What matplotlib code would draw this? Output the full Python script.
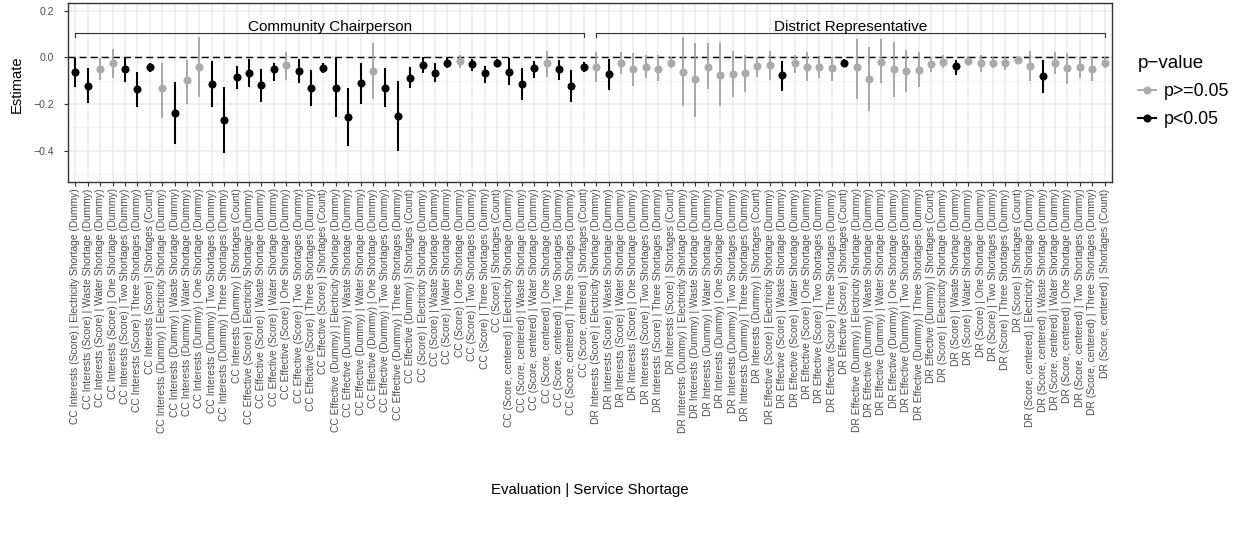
import numpy as np
import matplotlib
matplotlib.use("Agg")
import matplotlib.pyplot as plt
from matplotlib.lines import Line2D

plt.rcParams['font.family'] = ['Liberation Sans', 'DejaVu Sans']

evaluations_cc = ["CC Interests (Score)", "CC Interests (Dummy)", "CC Effective (Score)",
                  "CC Effective (Dummy)", "CC (Score)", "CC (Score, centered)"]
evaluations_dr = ["DR Interests (Score)", "DR Interests (Dummy)", "DR Effective (Score)",
                  "DR Effective (Dummy)", "DR (Score)", "DR (Score, centered)"]
shortages = ["Electricity Shortage (Dummy)", "Waste Shortage (Dummy)", "Water Shortage (Dummy)",
             "One Shortage (Dummy)", "Two Shortages (Dummy)", "Three Shortages (Dummy)",
             "Shortages (Count)"]

labels = [e + " | " + s for e in evaluations_cc + evaluations_dr for s in shortages]

# estimates, lower and upper bounds, significant flag (1 = p<0.05)
estimate = [
    -0.064, -0.123, -0.049, -0.024, -0.051, -0.136, -0.043,
    -0.130, -0.237, -0.097, -0.040, -0.114, -0.268, -0.086,
    -0.066, -0.120, -0.051, -0.034, -0.059, -0.130, -0.044,
    -0.130, -0.254, -0.111, -0.059, -0.130, -0.250, -0.087,
    -0.034, -0.066, -0.026, -0.014, -0.029, -0.069, -0.023,
    -0.061, -0.114, -0.047, -0.026, -0.051, -0.121, -0.040,
    -0.040, -0.071, -0.023, -0.051, -0.040, -0.049, -0.023,
    -0.061, -0.094, -0.040, -0.076, -0.071, -0.069, -0.037,
    -0.033, -0.077, -0.023, -0.040, -0.040, -0.047, -0.023,
    -0.040, -0.094, -0.019, -0.050, -0.059, -0.054, -0.029,
    -0.019, -0.037, -0.014, -0.026, -0.023, -0.026, -0.011,
    -0.037, -0.080, -0.023, -0.047, -0.040, -0.049, -0.023,
]
lower = [
    -0.128, -0.197, -0.097, -0.087, -0.107, -0.211, -0.061,
    -0.261, -0.373, -0.200, -0.168, -0.214, -0.408, -0.137,
    -0.128, -0.193, -0.100, -0.097, -0.108, -0.208, -0.066,
    -0.257, -0.380, -0.200, -0.180, -0.211, -0.400, -0.133,
    -0.069, -0.107, -0.047, -0.047, -0.057, -0.108, -0.037,
    -0.118, -0.183, -0.090, -0.086, -0.097, -0.190, -0.061,
    -0.104, -0.140, -0.071, -0.123, -0.090, -0.101, -0.047,
    -0.208, -0.254, -0.137, -0.208, -0.171, -0.147, -0.083,
    -0.097, -0.143, -0.069, -0.100, -0.090, -0.100, -0.040,
    -0.180, -0.230, -0.111, -0.168, -0.147, -0.128, -0.061,
    -0.047, -0.076, -0.033, -0.061, -0.047, -0.054, -0.029,
    -0.100, -0.151, -0.071, -0.114, -0.090, -0.101, -0.047,
]
upper = [
    -0.004, -0.047, -0.004, 0.034, 0.000, -0.061, -0.026,
    -0.023, -0.104, -0.011, 0.089, -0.016, -0.128, -0.037,
    -0.009, -0.051, -0.023, 0.024, -0.009, -0.054, -0.026,
    -0.004, -0.133, -0.026, 0.063, -0.047, -0.100, -0.040,
    0.000, -0.026, -0.004, 0.010, -0.009, -0.037, -0.009,
    -0.004, -0.047, -0.014, 0.029, -0.011, -0.054, -0.020,
    0.024, -0.009, 0.024, 0.017, 0.010, 0.010, 0.000,
    0.086, 0.060, 0.060, 0.060, 0.029, 0.010, 0.000,
    0.029, -0.014, 0.010, 0.024, 0.006, 0.003, -0.009,
    0.077, 0.043, 0.077, 0.067, 0.031, 0.024, 0.000,
    0.010, -0.011, 0.006, 0.010, 0.000, 0.000, 0.003,
    0.029, -0.011, 0.024, 0.020, 0.003, 0.003, 0.000,
]
significant = [
    1, 1, 0, 0, 1, 1, 1,
    0, 1, 0, 0, 1, 1, 1,
    1, 1, 1, 0, 1, 1, 1,
    1, 1, 1, 0, 1, 1, 1,
    1, 1, 1, 0, 1, 1, 1,
    1, 1, 1, 0, 1, 1, 1,
    0, 1, 0, 0, 0, 0, 0,
    0, 0, 0, 0, 0, 0, 0,
    0, 1, 0, 0, 0, 0, 1,
    0, 0, 0, 0, 0, 0, 0,
    0, 1, 0, 0, 0, 0, 0,
    0, 1, 0, 0, 0, 0, 0,
]
groups = ["Community Chairperson", "District Representative"]

grey_pt = "#AAAAAA"
grey_ln = "#9C9C9C"
W, H = 1242, 537
fig = plt.figure(figsize=(W / 100, H / 100), dpi=100)
ax = fig.add_axes([68 / W, 1 - 181.7 / H, (1112 - 68) / W, (181.7 - 2.7) / H])

x = np.arange(len(labels))
est = np.array(estimate)
lo = np.array(lower)
hi = np.array(upper)
sig = np.array(significant) == 1

ax.axhline(0, color="black", ls=(0, (5, 3)), lw=1.0, zorder=2)

ax.vlines(x[~sig], lo[~sig], hi[~sig], color=grey_ln, lw=1.2, zorder=3)
ax.plot(x[~sig], est[~sig], "o", color=grey_pt, ms=5.8, mec="none", zorder=4)
ax.vlines(x[sig], lo[sig], hi[sig], color="black", lw=1.5, zorder=3)
ax.plot(x[sig], est[sig], "o", color="black", ms=5.8, mec="none", zorder=4)

# group brackets
n = len(shortages) * len(evaluations_cc)
for i, g in enumerate(groups):
    a, b = i * n, (i + 1) * n - 1
    ax.plot([a, a, b, b], [0.086, 0.103, 0.103, 0.086], color="#333333", lw=0.8, zorder=3)
    ax.text((a + b) / 2, 0.128, g, ha="center", va="center", fontsize=11, color="black")

ax.set_xlim(-0.6, len(labels) - 0.4)
ax.set_ylim(-0.533, 0.234)
ax.set_xticks(x)
ax.set_xticklabels(labels, rotation=90, fontsize=7.4, color="#4D4D4D")
ax.set_yticks([-0.4, -0.2, 0.0, 0.2])
ax.set_yticklabels(["\u22120.4", "\u22120.2", "0.0", "0.2"], fontsize=7.6, color="#4D4D4D")
ax.set_yticks([-0.5, -0.3, -0.1, 0.1], minor=True)
ax.tick_params(axis="both", which="major", length=2.75, width=0.8, color="#333333")
ax.tick_params(axis="x", pad=2)
ax.tick_params(axis="y", pad=7.5)
ax.tick_params(axis="y", which="minor", length=0)
ax.grid(True, which="major", color="#EBEBEB", lw=1.1, zorder=0)
ax.grid(True, which="minor", axis="y", color="#F2F2F2", lw=0.6, zorder=0)
ax.set_axisbelow(True)
for s in ax.spines.values():
    s.set_color("#333333")
    s.set_linewidth(1.0)

fig.text(17 / W, 1 - 84 / H, "Estimate", rotation=90, ha="center", va="center", fontsize=10.6)
fig.text(590 / W, 1 - 490 / H, "Evaluation | Service Shortage", ha="center", va="center", fontsize=10.8)

handles = [
    Line2D([], [], color=grey_ln, marker="o", ms=5.8, mfc=grey_pt, mec="none", lw=1.2),
    Line2D([], [], color="black", marker="o", ms=5.8, mec="none", lw=1.5),
]
leg = fig.legend(handles, ["p>=0.05", "p<0.05"], title="p\u2212value",
                 loc="upper left", bbox_to_anchor=(1122 / W, 1 - 39 / H),
                 frameon=False, fontsize=12.8, title_fontsize=13.5,
                 handlelength=1.0, handletextpad=0.45, labelspacing=0.62)
leg._legend_box.align = "left"

fig.savefig("out.png", dpi=100)
